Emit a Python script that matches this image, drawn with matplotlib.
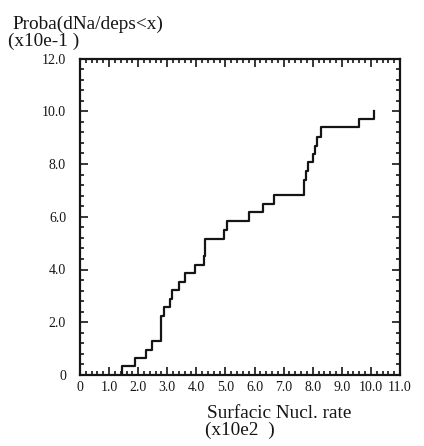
import numpy as np
import matplotlib
matplotlib.use("Agg")
import matplotlib.pyplot as plt
from matplotlib.ticker import MultipleLocator, FixedLocator

# ---- data ----
step_x = [1.44, 1.88, 2.27, 2.47, 2.80, 2.89, 3.10, 3.16, 3.41, 3.61, 3.95,
          4.25, 4.31, 4.94, 5.07, 5.80, 6.30, 6.68, 7.71, 7.76, 7.84, 8.00,
          8.07, 8.16, 8.28, 9.60, 10.09]
step_y = [0.34, 0.64, 0.95, 1.29, 2.22, 2.58, 2.90, 3.21, 3.53, 3.85, 4.16,
          4.51, 5.15, 5.48, 5.85, 6.18, 6.47, 6.84, 7.40, 7.72, 8.08, 8.39,
          8.69, 9.01, 9.40, 9.72, 10.0]
x_ticks = [0, 1, 2, 3, 4, 5, 6, 7, 8, 9, 10, 11]
x_ticklabels = ["0", "1.0", "2.0", "3.0", "4.0", "5.0", "6.0", "7.0", "8.0",
                "9.0", "10.0", "11.0"]
y_ticks = [0, 2, 4, 6, 8, 10, 12]
y_ticklabels = ["0", "2.0", "4.0", "6.0", "8.0", "10.0", "12.0"]

W, H = 424, 446
ink = "#151515"
plt.rcParams["font.family"] = ["Liberation Serif", "DejaVu Serif"]

fig = plt.figure(figsize=(W / 100, H / 100), dpi=100)
ax = fig.add_axes([80 / W, 1 - 375 / H, 320 / W, 316.5 / H])

xs = np.concatenate([[step_x[0]], step_x])
ys = np.concatenate([[0.0], step_y])
ax.step(xs, ys, where="post", color=ink, lw=1.6)

ax.set_xlim(0, 11)
ax.set_ylim(0, 12)

ax.xaxis.set_major_locator(FixedLocator(x_ticks))
ax.set_xticklabels(x_ticklabels)
ax.xaxis.set_minor_locator(MultipleLocator(0.2))
ax.yaxis.set_major_locator(FixedLocator(y_ticks))
ax.set_yticklabels(y_ticklabels)
ax.yaxis.set_minor_locator(MultipleLocator(0.4))

ax.tick_params(which="both", direction="in", top=True, right=True,
               color=ink, width=1.2)
ax.tick_params(which="major", length=6)
ax.tick_params(which="minor", length=3)
ax.tick_params(axis="x", which="major", labelsize=10, pad=4, labelcolor=ink)
ax.tick_params(axis="y", which="major", labelsize=10, pad=10, labelcolor=ink)

for s in ax.spines.values():
    s.set_linewidth(1.6)
    s.set_color(ink)

def ftext(x, y, s, **kw):
    fig.text(x / W, 1 - y / H, s, color=ink, va="baseline", ha="left", **kw)

ftext(12, 28.5, "Proba(dNa/deps<x)", fontsize=13.9)
ftext(8, 46.0, "(x10e-1 )", fontsize=13.9)
ftext(207, 418, "Surfacic Nucl. rate", fontsize=13.9)
ftext(205, 435, "(x10e2  )", fontsize=13.9)

fig.savefig("out.png", dpi=100)
